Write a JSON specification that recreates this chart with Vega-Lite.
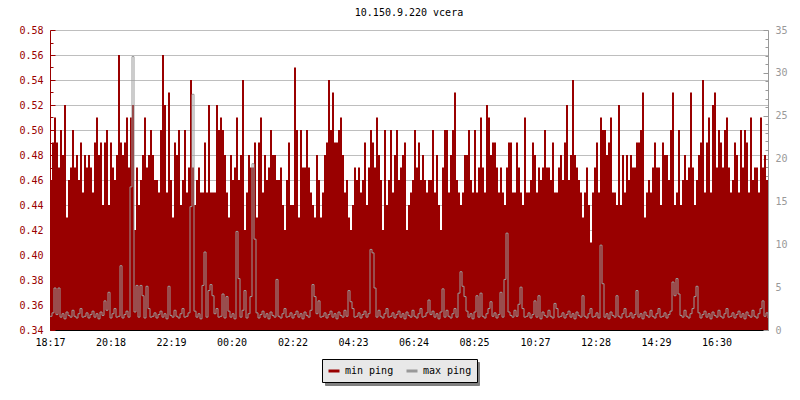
{
"$schema":"https://vega.github.io/schema/vega-lite/v6.json",
"width":718,"height":300,
"autosize":{"type":"none"},
"padding":{"left":50,"top":30,"right":32,"bottom":70},
"background":"#ffffff",
"title":{"text":"10.150.9.220 vcera","font":"DejaVu Sans Mono","fontSize":10,"fontWeight":"normal","color":"#000000","anchor":"middle","baseline":"alphabetic","offset":-1},
"config":{"view":{"stroke":null},"axis":{"labelFont":"DejaVu Sans Mono","labelFontSize":10,"title":null}},
"data":{"values":[
{"t":0,"lo":0.46,"hi":1.6},{"t":4,"lo":0.49,"hi":2.0},{"t":8,"lo":0.51,"hi":4.9},{"t":12,"lo":0.49,"hi":1.8},{"t":16,"lo":0.47,"hi":4.9},{"t":20,"lo":0.50,"hi":1.5},{"t":24,"lo":0.48,"hi":1.9},{"t":28,"lo":0.52,"hi":1.3},{"t":32,"lo":0.43,"hi":2.1},{"t":36,"lo":0.46,"hi":1.7},
{"t":40,"lo":0.47,"hi":1.5},{"t":44,"lo":0.50,"hi":2.3},{"t":48,"lo":0.47,"hi":1.6},{"t":52,"lo":0.48,"hi":1.4},{"t":56,"lo":0.46,"hi":1.9},{"t":60,"lo":0.49,"hi":2.5},{"t":64,"lo":0.45,"hi":1.5},{"t":68,"lo":0.48,"hi":1.6},{"t":72,"lo":0.47,"hi":2.0},{"t":76,"lo":0.48,"hi":1.4},
{"t":80,"lo":0.47,"hi":1.8},{"t":84,"lo":0.45,"hi":2.2},{"t":88,"lo":0.49,"hi":1.5},{"t":92,"lo":0.51,"hi":1.9},{"t":96,"lo":0.48,"hi":1.3},{"t":100,"lo":0.49,"hi":2.1},{"t":104,"lo":0.44,"hi":1.7},{"t":108,"lo":0.49,"hi":3.4},{"t":112,"lo":0.50,"hi":2.3},{"t":116,"lo":0.44,"hi":4.4},
{"t":120,"lo":0.49,"hi":1.4},{"t":124,"lo":0.47,"hi":1.9},{"t":128,"lo":0.46,"hi":2.5},{"t":132,"lo":0.48,"hi":1.5},{"t":136,"lo":0.56,"hi":1.6},{"t":140,"lo":0.49,"hi":7.5},{"t":144,"lo":0.48,"hi":1.4},{"t":148,"lo":0.49,"hi":1.8},{"t":152,"lo":0.51,"hi":2.2},{"t":156,"lo":0.47,"hi":1.5},
{"t":160,"lo":0.51,"hi":16.7},{"t":164,"lo":0.52,"hi":31.9},{"t":168,"lo":0.42,"hi":2.1},{"t":172,"lo":0.47,"hi":5.2},{"t":176,"lo":0.44,"hi":1.5},{"t":180,"lo":0.46,"hi":5.2},{"t":184,"lo":0.48,"hi":4.0},{"t":188,"lo":0.51,"hi":1.4},{"t":192,"lo":0.47,"hi":5.1},{"t":196,"lo":0.48,"hi":2.5},
{"t":200,"lo":0.50,"hi":1.5},{"t":204,"lo":0.48,"hi":1.6},{"t":208,"lo":0.46,"hi":2.0},{"t":212,"lo":0.46,"hi":1.4},{"t":216,"lo":0.45,"hi":1.8},{"t":220,"lo":0.50,"hi":2.2},{"t":224,"lo":0.56,"hi":1.5},{"t":228,"lo":0.52,"hi":1.9},{"t":232,"lo":0.45,"hi":1.3},{"t":236,"lo":0.53,"hi":5.1},
{"t":240,"lo":0.46,"hi":1.7},{"t":244,"lo":0.43,"hi":1.5},{"t":248,"lo":0.49,"hi":2.3},{"t":252,"lo":0.48,"hi":1.6},{"t":256,"lo":0.50,"hi":1.4},{"t":260,"lo":0.44,"hi":1.9},{"t":264,"lo":0.46,"hi":2.5},{"t":268,"lo":0.50,"hi":1.5},{"t":272,"lo":0.45,"hi":1.6},{"t":276,"lo":0.47,"hi":2.0},
{"t":280,"lo":0.54,"hi":14.4},{"t":284,"lo":0.47,"hi":27.5},{"t":288,"lo":0.44,"hi":2.2},{"t":292,"lo":0.46,"hi":1.5},{"t":296,"lo":0.47,"hi":1.9},{"t":300,"lo":0.45,"hi":1.3},{"t":304,"lo":0.45,"hi":5.2},{"t":308,"lo":0.49,"hi":9.1},{"t":312,"lo":0.45,"hi":1.5},{"t":316,"lo":0.52,"hi":4.6},
{"t":320,"lo":0.45,"hi":5.3},{"t":324,"lo":0.45,"hi":4.0},{"t":328,"lo":0.45,"hi":1.9},{"t":332,"lo":0.52,"hi":2.5},{"t":336,"lo":0.50,"hi":1.5},{"t":340,"lo":0.51,"hi":1.6},{"t":344,"lo":0.50,"hi":4.2},{"t":348,"lo":0.48,"hi":1.4},{"t":352,"lo":0.45,"hi":3.9},{"t":356,"lo":0.43,"hi":2.2},
{"t":360,"lo":0.48,"hi":1.5},{"t":364,"lo":0.46,"hi":1.9},{"t":368,"lo":0.47,"hi":1.3},{"t":372,"lo":0.51,"hi":11.5},{"t":376,"lo":0.46,"hi":6.0},{"t":380,"lo":0.48,"hi":1.5},{"t":384,"lo":0.54,"hi":2.3},{"t":388,"lo":0.42,"hi":4.6},{"t":392,"lo":0.45,"hi":1.4},{"t":396,"lo":0.48,"hi":1.9},
{"t":400,"lo":0.47,"hi":3.9},{"t":404,"lo":0.47,"hi":19.4},{"t":408,"lo":0.49,"hi":10.6},{"t":412,"lo":0.43,"hi":2.0},{"t":416,"lo":0.49,"hi":1.4},{"t":420,"lo":0.51,"hi":1.8},{"t":424,"lo":0.45,"hi":2.2},{"t":428,"lo":0.48,"hi":1.5},{"t":432,"lo":0.46,"hi":1.9},{"t":436,"lo":0.47,"hi":1.3},
{"t":440,"lo":0.50,"hi":2.1},{"t":444,"lo":0.48,"hi":1.7},{"t":448,"lo":0.48,"hi":1.5},{"t":452,"lo":0.46,"hi":5.9},{"t":456,"lo":0.46,"hi":1.6},{"t":460,"lo":0.47,"hi":1.4},{"t":464,"lo":0.44,"hi":1.9},{"t":468,"lo":0.42,"hi":2.5},{"t":472,"lo":0.46,"hi":1.5},{"t":476,"lo":0.49,"hi":1.6},
{"t":480,"lo":0.44,"hi":2.0},{"t":484,"lo":0.44,"hi":1.4},{"t":488,"lo":0.55,"hi":1.8},{"t":492,"lo":0.50,"hi":2.2},{"t":496,"lo":0.43,"hi":1.5},{"t":500,"lo":0.50,"hi":1.9},{"t":504,"lo":0.47,"hi":1.3},{"t":508,"lo":0.47,"hi":2.1},{"t":512,"lo":0.50,"hi":1.7},{"t":516,"lo":0.47,"hi":1.5},
{"t":520,"lo":0.45,"hi":2.3},{"t":524,"lo":0.44,"hi":5.3},{"t":528,"lo":0.43,"hi":3.9},{"t":532,"lo":0.48,"hi":1.9},{"t":536,"lo":0.46,"hi":3.4},{"t":540,"lo":0.43,"hi":1.5},{"t":544,"lo":0.45,"hi":1.6},{"t":548,"lo":0.48,"hi":2.0},{"t":552,"lo":0.49,"hi":1.4},{"t":556,"lo":0.54,"hi":1.8},
{"t":560,"lo":0.50,"hi":2.2},{"t":564,"lo":0.53,"hi":1.5},{"t":568,"lo":0.49,"hi":1.9},{"t":572,"lo":0.49,"hi":1.3},{"t":576,"lo":0.50,"hi":2.1},{"t":580,"lo":0.51,"hi":1.7},{"t":584,"lo":0.48,"hi":1.5},{"t":588,"lo":0.45,"hi":2.3},{"t":592,"lo":0.46,"hi":1.6},{"t":596,"lo":0.43,"hi":4.6},
{"t":600,"lo":0.42,"hi":3.3},{"t":604,"lo":0.44,"hi":2.5},{"t":608,"lo":0.47,"hi":1.5},{"t":612,"lo":0.46,"hi":1.6},{"t":616,"lo":0.47,"hi":2.0},{"t":620,"lo":0.45,"hi":1.4},{"t":624,"lo":0.46,"hi":1.8},{"t":628,"lo":0.49,"hi":2.2},{"t":632,"lo":0.44,"hi":1.5},{"t":636,"lo":0.47,"hi":1.9},
{"t":640,"lo":0.50,"hi":9.4},{"t":644,"lo":0.49,"hi":9.0},{"t":648,"lo":0.47,"hi":4.9},{"t":652,"lo":0.51,"hi":1.5},{"t":656,"lo":0.48,"hi":2.3},{"t":660,"lo":0.46,"hi":1.6},{"t":664,"lo":0.42,"hi":1.4},{"t":668,"lo":0.50,"hi":1.9},{"t":672,"lo":0.44,"hi":2.5},{"t":676,"lo":0.46,"hi":1.5},
{"t":680,"lo":0.50,"hi":1.6},{"t":684,"lo":0.45,"hi":2.0},{"t":688,"lo":0.48,"hi":1.4},{"t":692,"lo":0.50,"hi":1.8},{"t":696,"lo":0.46,"hi":2.2},{"t":700,"lo":0.47,"hi":1.5},{"t":704,"lo":0.48,"hi":1.9},{"t":708,"lo":0.49,"hi":1.3},{"t":712,"lo":0.42,"hi":2.1},{"t":716,"lo":0.44,"hi":1.7},
{"t":720,"lo":0.45,"hi":1.5},{"t":724,"lo":0.46,"hi":2.3},{"t":728,"lo":0.50,"hi":1.6},{"t":732,"lo":0.47,"hi":1.4},{"t":736,"lo":0.49,"hi":1.9},{"t":740,"lo":0.46,"hi":2.5},{"t":744,"lo":0.48,"hi":1.5},{"t":748,"lo":0.46,"hi":1.6},{"t":752,"lo":0.45,"hi":2.0},{"t":756,"lo":0.46,"hi":3.5},
{"t":760,"lo":0.46,"hi":1.8},{"t":764,"lo":0.50,"hi":2.2},{"t":768,"lo":0.45,"hi":1.5},{"t":772,"lo":0.48,"hi":1.9},{"t":776,"lo":0.44,"hi":1.3},{"t":780,"lo":0.42,"hi":2.1},{"t":784,"lo":0.47,"hi":4.8},{"t":788,"lo":0.50,"hi":1.5},{"t":792,"lo":0.50,"hi":2.3},{"t":796,"lo":0.45,"hi":1.6},
{"t":800,"lo":0.48,"hi":1.4},{"t":804,"lo":0.50,"hi":1.9},{"t":808,"lo":0.53,"hi":2.5},{"t":812,"lo":0.46,"hi":1.5},{"t":816,"lo":0.45,"hi":4.3},{"t":820,"lo":0.44,"hi":6.8},{"t":824,"lo":0.45,"hi":5.1},{"t":828,"lo":0.48,"hi":3.9},{"t":832,"lo":0.48,"hi":2.2},{"t":836,"lo":0.50,"hi":1.5},
{"t":840,"lo":0.46,"hi":1.9},{"t":844,"lo":0.45,"hi":1.3},{"t":848,"lo":0.50,"hi":2.1},{"t":852,"lo":0.45,"hi":4.0},{"t":856,"lo":0.47,"hi":1.5},{"t":860,"lo":0.51,"hi":4.3},{"t":864,"lo":0.47,"hi":1.6},{"t":868,"lo":0.45,"hi":1.4},{"t":872,"lo":0.52,"hi":1.9},{"t":876,"lo":0.51,"hi":2.5},
{"t":880,"lo":0.48,"hi":3.3},{"t":884,"lo":0.49,"hi":1.6},{"t":888,"lo":0.49,"hi":2.0},{"t":892,"lo":0.47,"hi":1.4},{"t":896,"lo":0.45,"hi":1.8},{"t":900,"lo":0.47,"hi":4.4},{"t":904,"lo":0.45,"hi":1.5},{"t":908,"lo":0.44,"hi":5.9},{"t":912,"lo":0.47,"hi":11.3},{"t":916,"lo":0.49,"hi":2.1},
{"t":920,"lo":0.49,"hi":1.7},{"t":924,"lo":0.45,"hi":1.5},{"t":928,"lo":0.45,"hi":2.3},{"t":932,"lo":0.49,"hi":1.6},{"t":936,"lo":0.47,"hi":3.0},{"t":940,"lo":0.45,"hi":5.0},{"t":944,"lo":0.44,"hi":2.5},{"t":948,"lo":0.51,"hi":1.5},{"t":952,"lo":0.45,"hi":1.6},{"t":956,"lo":0.45,"hi":2.0},
{"t":960,"lo":0.46,"hi":1.4},{"t":964,"lo":0.49,"hi":1.8},{"t":968,"lo":0.48,"hi":3.4},{"t":972,"lo":0.45,"hi":1.5},{"t":976,"lo":0.47,"hi":4.0},{"t":980,"lo":0.46,"hi":1.3},{"t":984,"lo":0.47,"hi":2.1},{"t":988,"lo":0.50,"hi":1.7},{"t":992,"lo":0.47,"hi":1.5},{"t":996,"lo":0.47,"hi":2.3},
{"t":1000,"lo":0.46,"hi":1.6},{"t":1004,"lo":0.49,"hi":1.4},{"t":1008,"lo":0.45,"hi":3.1},{"t":1012,"lo":0.45,"hi":2.5},{"t":1016,"lo":0.47,"hi":1.5},{"t":1020,"lo":0.48,"hi":1.6},{"t":1024,"lo":0.46,"hi":2.0},{"t":1028,"lo":0.49,"hi":1.4},{"t":1032,"lo":0.52,"hi":1.8},{"t":1036,"lo":0.46,"hi":2.2},
{"t":1040,"lo":0.48,"hi":1.5},{"t":1044,"lo":0.54,"hi":1.9},{"t":1048,"lo":0.48,"hi":1.3},{"t":1052,"lo":0.47,"hi":2.1},{"t":1056,"lo":0.46,"hi":1.7},{"t":1060,"lo":0.45,"hi":1.5},{"t":1064,"lo":0.43,"hi":4.0},{"t":1068,"lo":0.45,"hi":1.6},{"t":1072,"lo":0.47,"hi":1.4},{"t":1076,"lo":0.44,"hi":1.9},
{"t":1080,"lo":0.41,"hi":2.5},{"t":1084,"lo":0.45,"hi":1.5},{"t":1088,"lo":0.47,"hi":1.6},{"t":1092,"lo":0.49,"hi":2.0},{"t":1096,"lo":0.45,"hi":1.4},{"t":1100,"lo":0.51,"hi":9.9},{"t":1104,"lo":0.50,"hi":5.4},{"t":1108,"lo":0.50,"hi":1.5},{"t":1112,"lo":0.48,"hi":1.9},{"t":1116,"lo":0.49,"hi":1.3},
{"t":1120,"lo":0.51,"hi":2.1},{"t":1124,"lo":0.45,"hi":1.7},{"t":1128,"lo":0.45,"hi":1.5},{"t":1132,"lo":0.44,"hi":4.0},{"t":1136,"lo":0.52,"hi":1.6},{"t":1140,"lo":0.44,"hi":1.4},{"t":1144,"lo":0.48,"hi":1.9},{"t":1148,"lo":0.45,"hi":2.5},{"t":1152,"lo":0.48,"hi":1.5},{"t":1156,"lo":0.46,"hi":1.6},
{"t":1160,"lo":0.48,"hi":2.0},{"t":1164,"lo":0.47,"hi":1.4},{"t":1168,"lo":0.47,"hi":1.8},{"t":1172,"lo":0.49,"hi":4.6},{"t":1176,"lo":0.49,"hi":1.5},{"t":1180,"lo":0.50,"hi":1.9},{"t":1184,"lo":0.53,"hi":1.3},{"t":1188,"lo":0.43,"hi":2.1},{"t":1192,"lo":0.45,"hi":1.7},{"t":1196,"lo":0.46,"hi":1.5},
{"t":1200,"lo":0.45,"hi":2.3},{"t":1204,"lo":0.47,"hi":1.6},{"t":1208,"lo":0.49,"hi":1.4},{"t":1212,"lo":0.47,"hi":1.9},{"t":1216,"lo":0.47,"hi":2.5},{"t":1220,"lo":0.44,"hi":1.5},{"t":1224,"lo":0.49,"hi":1.6},{"t":1228,"lo":0.48,"hi":2.0},{"t":1232,"lo":0.48,"hi":1.4},{"t":1236,"lo":0.46,"hi":1.8},
{"t":1240,"lo":0.50,"hi":2.2},{"t":1244,"lo":0.53,"hi":5.6},{"t":1248,"lo":0.44,"hi":4.0},{"t":1252,"lo":0.45,"hi":6.0},{"t":1256,"lo":0.50,"hi":4.2},{"t":1260,"lo":0.44,"hi":1.7},{"t":1264,"lo":0.46,"hi":1.5},{"t":1268,"lo":0.48,"hi":2.3},{"t":1272,"lo":0.46,"hi":1.6},{"t":1276,"lo":0.47,"hi":1.4},
{"t":1280,"lo":0.53,"hi":1.9},{"t":1284,"lo":0.47,"hi":2.5},{"t":1288,"lo":0.44,"hi":3.9},{"t":1292,"lo":0.46,"hi":5.1},{"t":1296,"lo":0.48,"hi":2.0},{"t":1300,"lo":0.49,"hi":1.4},{"t":1304,"lo":0.54,"hi":1.8},{"t":1308,"lo":0.45,"hi":2.2},{"t":1312,"lo":0.49,"hi":1.5},{"t":1316,"lo":0.51,"hi":1.9},
{"t":1320,"lo":0.45,"hi":1.3},{"t":1324,"lo":0.52,"hi":2.1},{"t":1328,"lo":0.53,"hi":1.7},{"t":1332,"lo":0.47,"hi":1.5},{"t":1336,"lo":0.50,"hi":2.3},{"t":1340,"lo":0.49,"hi":1.6},{"t":1344,"lo":0.47,"hi":1.4},{"t":1348,"lo":0.50,"hi":1.9},{"t":1352,"lo":0.51,"hi":2.5},{"t":1356,"lo":0.47,"hi":1.5},
{"t":1360,"lo":0.45,"hi":1.6},{"t":1364,"lo":0.46,"hi":2.0},{"t":1368,"lo":0.49,"hi":1.4},{"t":1372,"lo":0.48,"hi":1.8},{"t":1376,"lo":0.45,"hi":2.2},{"t":1380,"lo":0.50,"hi":1.5},{"t":1384,"lo":0.47,"hi":1.9},{"t":1388,"lo":0.50,"hi":1.3},{"t":1392,"lo":0.49,"hi":2.1},{"t":1396,"lo":0.45,"hi":1.7},
{"t":1400,"lo":0.51,"hi":1.5},{"t":1404,"lo":0.46,"hi":2.3},{"t":1408,"lo":0.47,"hi":1.6},{"t":1412,"lo":0.47,"hi":1.4},{"t":1416,"lo":0.45,"hi":1.9},{"t":1420,"lo":0.51,"hi":2.5},{"t":1424,"lo":0.47,"hi":3.4},{"t":1428,"lo":0.48,"hi":1.6},{"t":1432,"lo":0.46,"hi":2.0},{"t":1436,"lo":0.46,"hi":1.4}
]},
"encoding":{
 "x":{"field":"t","type":"quantitative","scale":{"domain":[0,1436],"nice":false,"zero":false},
  "axis":{"values":[0,121,242,363,485,606,727,848,970,1091,1212,1333],
   "labelExpr":"timeFormat(datetime(2024,0,1,18,17+datum.value),'%H:%M')",
   "grid":false,"domainColor":"#000000","tickColor":"#000000","labelColor":"#000000","tickSize":-5,"labelPadding":12,"labelFlush":false,"labelOverlap":false}}
},
"layer":[
 {"mark":{"type":"area","interpolate":"step-after","opacity":1},
  "encoding":{
   "y":{"field":"lo","type":"quantitative","scale":{"domain":[0.34,0.58],"nice":false,"zero":false},
    "axis":{"orient":"left","values":[0.34,0.36,0.38,0.40,0.42,0.44,0.46,0.48,0.50,0.52,0.54,0.56,0.58],"format":".2f","labelColor":"#990000","domainColor":"#990000","tickColor":"#990000","tickSize":-5,"labelPadding":12,"grid":true,"gridColor":"#bebebe","labelFlush":false,"labelOverlap":false}},
   "y2":{"datum":0.34},
   "color":{"datum":"min ping","type":"nominal","scale":{"domain":["min ping","max ping"],"range":["#990000","#999999"]},
    "legend":{"orient":"none","legendX":272,"legendY":329,"zindex":2,"direction":"horizontal","title":null,"fillColor":"#e8e8e8","strokeColor":"#000000","padding":5,"symbolType":"stroke","symbolStrokeWidth":3,"symbolSize":121,"labelFont":"DejaVu Sans Mono","labelFontSize":10,"labelColor":"#000000","columnPadding":6,"labelOffset":4}}
  }},
 {"mark":{"type":"point","opacity":0},
  "encoding":{"y":{"field":"lo","type":"quantitative","scale":{"domain":[0.34,0.58],"nice":false,"zero":false},
   "axis":{"orient":"left","values":[0.35,0.37,0.39,0.41,0.43,0.45,0.47,0.49,0.51,0.53,0.55,0.57],"labels":false,"domain":false,"grid":false,"tickColor":"#990000","tickSize":-3}},
   "shape":{"datum":"min_ping","type":"nominal","scale":{"domain":["min_ping","max_ping"],"range":["square","square"]},
    "legend":{"orient":"none","legendX":275,"legendY":332,"zindex":1,"direction":"horizontal","title":null,"fillColor":"#808080","strokeColor":"#808080","padding":5,"symbolType":"stroke","symbolStrokeWidth":3,"symbolSize":121,"symbolOpacity":0,"symbolStrokeColor":"#808080","symbolFillColor":"#808080","labelExpr":"'\u00a0\u00a0\u00a0\u00a0\u00a0\u00a0\u00a0\u00a0'","labelFont":"DejaVu Sans Mono","labelFontSize":10,"labelColor":"#808080","columnPadding":108,"labelOffset":4}}}},
 {"mark":{"type":"line","interpolate":"step-after","strokeWidth":1},
  "encoding":{
   "y":{"field":"hi","type":"quantitative","scale":{"domain":[0,35],"nice":false,"zero":true},
    "axis":{"orient":"right","values":[0,5,10,15,20,25,30,35],"labelColor":"#999999","domainColor":"#999999","tickColor":"#999999","tickSize":-5,"labelPadding":12,"grid":false,"labelFlush":false,"labelOverlap":false}},
   "color":{"datum":"max ping","type":"nominal"}
  }},
 {"mark":{"type":"point","opacity":0},
  "encoding":{"y":{"field":"hi","type":"quantitative","scale":{"domain":[0,35],"nice":false,"zero":true},
   "axis":{"orient":"right","values":[1,2,3,4,6,7,8,9,11,12,13,14,16,17,18,19,21,22,23,24,26,27,28,29,31,32,33,34],"labels":false,"domain":false,"grid":false,"tickColor":"#999999","tickSize":-3}}}}
],
"resolve":{"scale":{"y":"independent"},"axis":{"y":"independent"}}
}
